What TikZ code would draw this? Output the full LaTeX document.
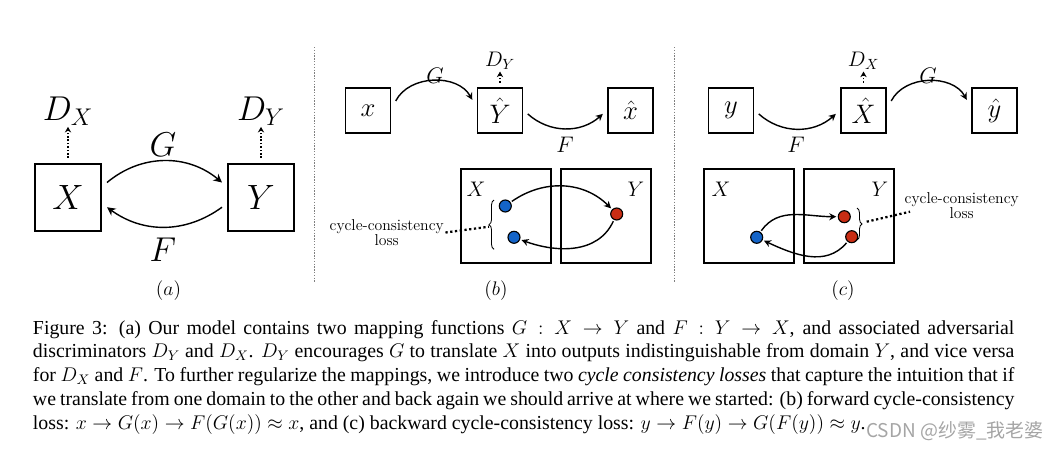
\documentclass[tikz,border=0pt]{standalone}
\usepackage{fix-cm}
\usepackage{amsmath,amssymb}
\usepackage{fontspec}
\newfontfamily\capfont{Liberation Serif}
\newfontfamily\cjkfont{Noto Sans CJK SC}
\usetikzlibrary{arrows.meta, decorations.pathreplacing}
\definecolor{dotblue}{RGB}{20,100,200}
\definecolor{dotred}{RGB}{200,45,20}
\definecolor{markgray}{RGB}{165,165,165}

\begin{document}
\begin{tikzpicture}[x=0.025cm, y=-0.025cm,
		bigbox/.style={draw, line width=1.2pt, minimum width=1.65cm, minimum height=1.675cm, inner sep=0pt, outer sep=0.15cm, font=\fontsize{25}{30}\selectfont},
		smallbox/.style={draw, line width=1.1pt, minimum size=1.125cm, inner sep=0pt, outer sep=0.13cm, font=\fontsize{19}{23}\selectfont},
		dombox/.style={draw, line width=1.1pt, minimum width=2.25cm, minimum height=2.34cm, inner sep=0pt},
		pointdot/.style={circle, draw, line width=0.8pt, minimum size=0.3cm, inner sep=0pt, outer sep=0.05cm},
		gen/.style={-{Stealth[length=5pt, width=5pt]}, line width=1pt},
		disc/.style={-{Stealth[length=4pt, width=4.5pt]}, line width=1.2pt, dash pattern=on 1.2pt off 1.2pt},
		lossline/.style={line width=1.6pt, dash pattern=on 1.6pt off 1.8pt},
		panelsep/.style={gray, line width=0.5pt, dash pattern=on 1pt off 1pt},
		losstext/.style={align=center, inner sep=1pt, font=\fontsize{11.2}{11.2}\selectfont},
		bigfont/.style={font=\fontsize{24.5}{29}\selectfont},
		midfont/.style={font=\fontsize{16}{19}\selectfont},
		subfont/.style={font=\fontsize{15}{18}\selectfont}]
	\useasboundingbox (0,0) rectangle (1060,449);
	
	% (a)
	\node[bigbox] (X) at (68,197.5) {$X$};
	\node[bigbox] (Y) at (261,197.5) {$Y$};
	\node[bigfont, anchor=base, inner sep=1pt] (DX) at (68,120) {$D_X$};
	\node[bigfont, anchor=base, inner sep=1pt] (DY) at (261,120) {$D_Y$};
	\node[bigfont] (Ga) at (163,145) {$G$};
	\node[bigfont] (Fa) at (163,250) {$F$};
	\draw[disc] (X.north) -- (DX.south);
	\draw[disc] (Y.north) -- (DY.south);
	\draw[gen, -{Stealth[length=6pt, width=6pt]}] (X.21) to[bend left=40] (Y.159);
	\draw[gen, -{Stealth[length=6pt, width=6pt]}] (Y.194) to[bend left=36] (X.346);
	\node[font=\fontsize{14}{17}\selectfont] (laba) at (168.5,291) {$(a)$};
	
	\coordinate (s1t) at (314,47);
	\coordinate (s1b) at (314,282);
	\coordinate (s2t) at (674,47);
	\coordinate (s2b) at (674,282);
	\draw[panelsep] (s1t) -- (s1b);
	\draw[panelsep] (s2t) -- (s2b);
	
	% (b)
	\node[smallbox] (xb) at (368,110.5) {$x$};
	\node[smallbox] (Yhb) at (500,110.5) {$\hat{Y}$};
	\node[smallbox] (xhb) at (630.5,110.5) {$\hat{x}$};
	\node[subfont, anchor=base, inner sep=1pt] (DYb) at (500,66.7) {$D_Y$};
	\node[midfont] (Gb) at (435,75.5) {$G$};
	\node[midfont] (Fb) at (565,144.5) {$F$};
	\draw[disc] (Yhb.north) -- (DYb.south);
	\draw[gen] (xb.19) to[bend left=62] (Yhb.159);
	\draw[gen] (Yhb.-7) to[bend right=42] (xhb.187);
	
	\node[dombox] (Xdb) at (506,216) {};
	\node[dombox] (Ydb) at (606,216) {};
	\node[font=\fontsize{15}{18}\selectfont] (Xlb) at (476,189.3) {$X$};
	\node[font=\fontsize{15}{18}\selectfont] (Ylb) at (636,189.3) {$Y$};
	\node[pointdot, fill=dotblue] (b1) at (505.3,206) {};
	\node[pointdot, fill=dotred] (br) at (616.7,214) {};
	\node[pointdot, fill=dotblue] (b2) at (514,237.3) {};
	\draw[gen] (b1) to[out=35, in=135] (br);
	\draw[gen] (br) to[out=-115, in=-20] (b2);
	\coordinate (brb1) at (494,249.3);
	\coordinate (brb2) at (494,200);
	\draw[decorate, decoration={brace, amplitude=0.125cm}, line width=0.6pt] (brb1) -- (brb2);
	\coordinate (tipb) at (489,226.7);
	\node[losstext] (lossb) at (386.7,232.5) {cycle-consistency\\loss};
	\draw[lossline] (lossb.east) -- (tipb);
	\node[font=\fontsize{14}{17}\selectfont] (labb) at (496,291) {$(b)$};
	
	% (c)
	\node[smallbox] (yc) at (731,110.5) {$y$};
	\node[smallbox] (Xhc) at (863.5,110.5) {$\hat{X}$};
	\node[smallbox] (yhc) at (994.5,110.5) {$\hat{y}$};
	\node[subfont, anchor=base, inner sep=1pt] (DXc) at (863.5,66.7) {$D_X$};
	\node[midfont] (Fc) at (796,144.5) {$F$};
	\node[midfont] (Gc) at (928,75.5) {$G$};
	\draw[disc] (Xhc.north) -- (DXc.south);
	\draw[gen] (yc.-7) to[bend right=42] (Xhc.187);
	\draw[gen] (Xhc.19) to[bend left=62] (yhc.159);
	
	\node[dombox] (Xdc) at (749,216) {};
	\node[dombox] (Ydc) at (849,216) {};
	\node[font=\fontsize{15}{18}\selectfont] (Xlc) at (721,189) {$X$};
	\node[font=\fontsize{15}{18}\selectfont] (Ylc) at (880,189) {$Y$};
	\node[pointdot, fill=dotblue] (c1) at (756.7,237.3) {};
	\node[pointdot, fill=dotred] (cr1) at (844.3,216.7) {};
	\node[pointdot, fill=dotred] (cr2) at (851.7,236.7) {};
	\draw[gen] (c1) to[out=55, in=180] (cr1);
	\draw[gen] (cr2) to[out=-130, in=-25] (c1);
	\coordinate (brc1) at (857,208);
	\coordinate (brc2) at (857,240);
	\draw[decorate, decoration={brace, amplitude=0.125cm}, line width=0.6pt] (brc1) -- (brc2);
	\coordinate (tipc) at (866.7,221.7);
	\coordinate (endc) at (910,211.7);
	\node[losstext] (lossc) at (961.7,205.5) {cycle-consistency\\loss};
	\draw[lossline] (tipc) -- (endc);
	\node[font=\fontsize{14}{17}\selectfont] (labc) at (843,291) {$(c)$};
	
	% caption
	\node[anchor=base west, inner sep=0pt, text width=24.53cm, align=justify, font=\capfont\fontsize{14.1}{16.93}\selectfont] (caption) at (32.7,334) {Figure 3: (a) Our model contains two mapping functions $G : X \rightarrow Y$ and $F : Y \rightarrow X$, and associated adversarial\linebreak
		discriminators $D_Y$ and $D_X$. $D_Y$ encourages $G$ to translate $X$ into outputs indistinguishable from domain $Y$, and vice versa\linebreak
		for $D_X$ and $F$. To further regularize the mappings, we introduce two \textit{cycle consistency losses} that capture the intuition that if\linebreak
		we translate from one domain to the other and back again we should arrive at where we started: (b) forward cycle-consistency\linebreak
		loss: $x \rightarrow G(x) \rightarrow F(G(x)) \approx x$, and (c) backward cycle-consistency loss: $y \rightarrow F(y) \rightarrow G(F(y)) \approx y$.};
	\node[anchor=base west, inner sep=0pt, text=markgray, font=\cjkfont\fontsize{13.5}{16}\selectfont] (mark) at (866,437) {CSDN @纱雾\_我老婆};
	
\end{tikzpicture}
\end{document}
